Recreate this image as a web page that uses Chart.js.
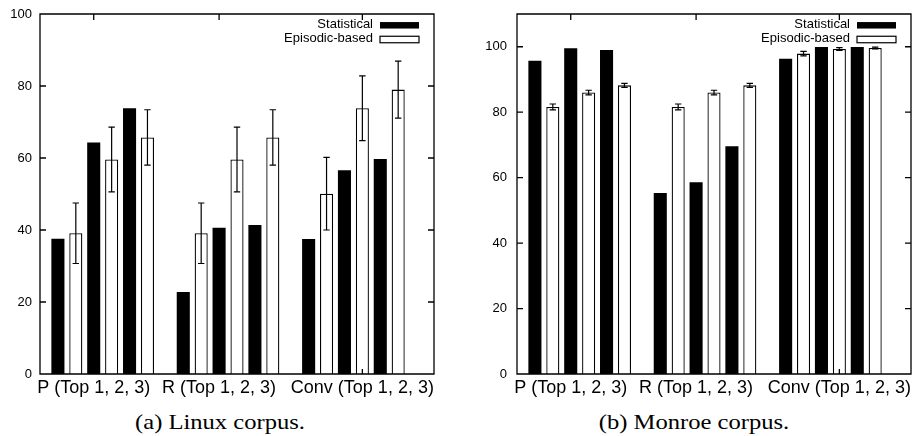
<!DOCTYPE html>
<html><head><meta charset="utf-8">
<script src="https://cdn.jsdelivr.net/npm/chart.js@4.4.1/dist/chart.umd.min.js"></script>
<style>
html,body{margin:0;padding:0;background:#fff;width:916px;height:436px;overflow:hidden;}
.panel{position:absolute;top:0;width:458px;height:400px;}
.cap{position:absolute;top:411.7px;font-family:"Liberation Serif","Times New Roman",serif;font-size:21px;line-height:21px;white-space:nowrap;color:#000;transform:translateX(-50%) scaleX(1.17);}
</style></head><body>
<div class="panel" style="left:0"><canvas id="c1" width="458" height="400"></canvas></div>
<div class="panel" style="left:458px"><canvas id="c2" width="458" height="400"></canvas></div>
<div class="cap" style="left:220px">(a) Linux corpus.</div>
<div class="cap" style="left:694px">(b) Monroe corpus.</div>
<script>
const groups = ['P (Top 1, 2, 3)', 'R (Top 1, 2, 3)', 'Conv (Top 1, 2, 3)'];
const groupTickPositions = [2, 9, 17];
const seriesNames = ['Statistical', 'Episodic-based'];
const yTicks = [0, 20, 40, 60, 80, 100];

const linuxStatistical = [37.6, 64.3, 73.8, 22.8, 40.6, 41.4, 37.5, 56.6, 59.7];
const linuxEpisodic    = [39.1, 59.6, 65.7, 39.1, 59.6, 65.7, 50.1, 73.8, 79.0];
const linuxEpisodicErr = [8.4, 9.0, 7.7, 8.4, 9.0, 7.7, 10.1, 9.0, 7.9];

const monroeStatistical = [95.7, 99.5, 99.0, 55.3, 58.6, 69.6, 96.3, 99.9, 99.9];
const monroeEpisodic    = [81.6, 86.0, 88.2, 81.6, 86.0, 88.2, 97.9, 99.3, 99.6];
const monroeEpisodicErr = [0.9, 0.7, 0.6, 0.9, 0.7, 0.6, 0.7, 0.4, 0.3];

function slotX(i, s) { return 7 * Math.floor(i / 3) + 2 * (i % 3) + s; }

const framePlugin = {
  id: 'frame',
  afterDatasetsDraw(chart) {
    const ctx = chart.ctx, a = chart.chartArea, x = chart.scales.x, y = chart.scales.y;
    const ds = chart.data.datasets[1];
    const meta = chart.getDatasetMeta(1);
    ctx.save();
    ctx.strokeStyle = '#000';
    ctx.lineWidth = 1.2;
    ctx.beginPath();
    meta.data.forEach((el, i) => {
      const v = ds.data[i].y, e = ds.errors[i];
      const yt = y.getPixelForValue(v + e), yb = y.getPixelForValue(v - e);
      ctx.moveTo(el.x, yt); ctx.lineTo(el.x, yb);
      ctx.moveTo(el.x - 3.2, yt); ctx.lineTo(el.x + 3.2, yt);
      ctx.moveTo(el.x - 3.2, yb); ctx.lineTo(el.x + 3.2, yb);
    });
    ctx.stroke();
    ctx.lineWidth = 1.3;
    ctx.beginPath();
    ctx.rect(a.left, a.top, a.right - a.left, a.bottom - a.top);
    y.ticks.forEach(t => {
      const py = y.getPixelForValue(t.value);
      ctx.moveTo(a.left, py); ctx.lineTo(a.left + 6, py);
      ctx.moveTo(a.right, py); ctx.lineTo(a.right - 6, py);
    });
    x.ticks.forEach(t => {
      const px = x.getPixelForValue(t.value);
      ctx.moveTo(px, a.top); ctx.lineTo(px, a.top + 6);
      ctx.moveTo(px, a.bottom); ctx.lineTo(px, a.bottom - 5);
    });
    ctx.stroke();
    // legend
    ctx.font = '13px "Liberation Sans", Arial, sans-serif';
    ctx.textAlign = 'right';
    ctx.textBaseline = 'middle';
    const rows = [24.5, 38.7];
    chart.data.datasets.forEach((d, k) => {
      const cy = a.top + rows[k] - 14;
      ctx.fillStyle = '#000';
      ctx.fillText(d.label, a.right - 61, cy);
      const bx = a.right - 54, bw = 39, bh = 6.5, by = a.top + [25.3, 39.5][k] - 14 - bh / 2;
      if (k === 0) { ctx.fillRect(bx, by, bw, bh); }
      else { ctx.fillStyle = '#fff'; ctx.fillRect(bx, by, bw, bh); ctx.lineWidth = 1.2; ctx.strokeRect(bx, by, bw, bh); }
    });
    ctx.restore();
  }
};

function makeChart(id, stat, epi, err, yMax, yW, rightPad, yPad) {
  new Chart(document.getElementById(id), {
    type: 'bar',
    data: {
      datasets: [
        { label: seriesNames[0], data: stat.map((v, i) => ({ x: slotX(i, 0), y: v })), backgroundColor: '#000', borderWidth: 0 },
        { label: seriesNames[1], data: epi.map((v, i) => ({ x: slotX(i, 1), y: v })), errors: err, backgroundColor: '#fff', borderColor: '#000', borderWidth: 1.3 }
      ]
    },
    options: {
      responsive: false, animation: false,
      layout: { padding: { top: 14, right: rightPad, left: 0, bottom: 0 } },
      datasets: { bar: { grouped: false, barPercentage: 0.73, categoryPercentage: 1 } },
      plugins: { legend: { display: false }, tooltip: { enabled: false } },
      scales: {
        x: {
          type: 'linear', min: -1, max: 21, offset: false,
          grid: { display: false, drawTicks: false }, border: { display: false },
          ticks: { autoSkip: false, maxRotation: 0, padding: 3, color: '#000', font: { family: 'Liberation Sans', size: 18 }, callback: (v, i) => groups[i] },
          afterBuildTicks: ax => { ax.ticks = groupTickPositions.map(v => ({ value: v })); },
          afterFit: ax => { ax.height = 26; ax.paddingLeft = 0; ax.paddingRight = 0; }
        },
        y: {
          min: 0, max: yMax,
          grid: { display: false, drawTicks: false }, border: { display: false },
          ticks: { padding: yPad, color: '#000', font: { family: 'Liberation Sans', size: 13 } },
          afterBuildTicks: ax => { ax.ticks = yTicks.map(v => ({ value: v })); },
          afterFit: ax => { ax.width = yW; ax.paddingTop = 0; ax.paddingBottom = 0; }
        }
      }
    },
    plugins: [framePlugin]
  });
}

makeChart('c1', linuxStatistical, linuxEpisodic, linuxEpisodicErr, 100, 40, 24, 8);
makeChart('c2', monroeStatistical, monroeEpisodic, monroeEpisodicErr, 110, 59, 5, 10);
</script>
</body></html>
